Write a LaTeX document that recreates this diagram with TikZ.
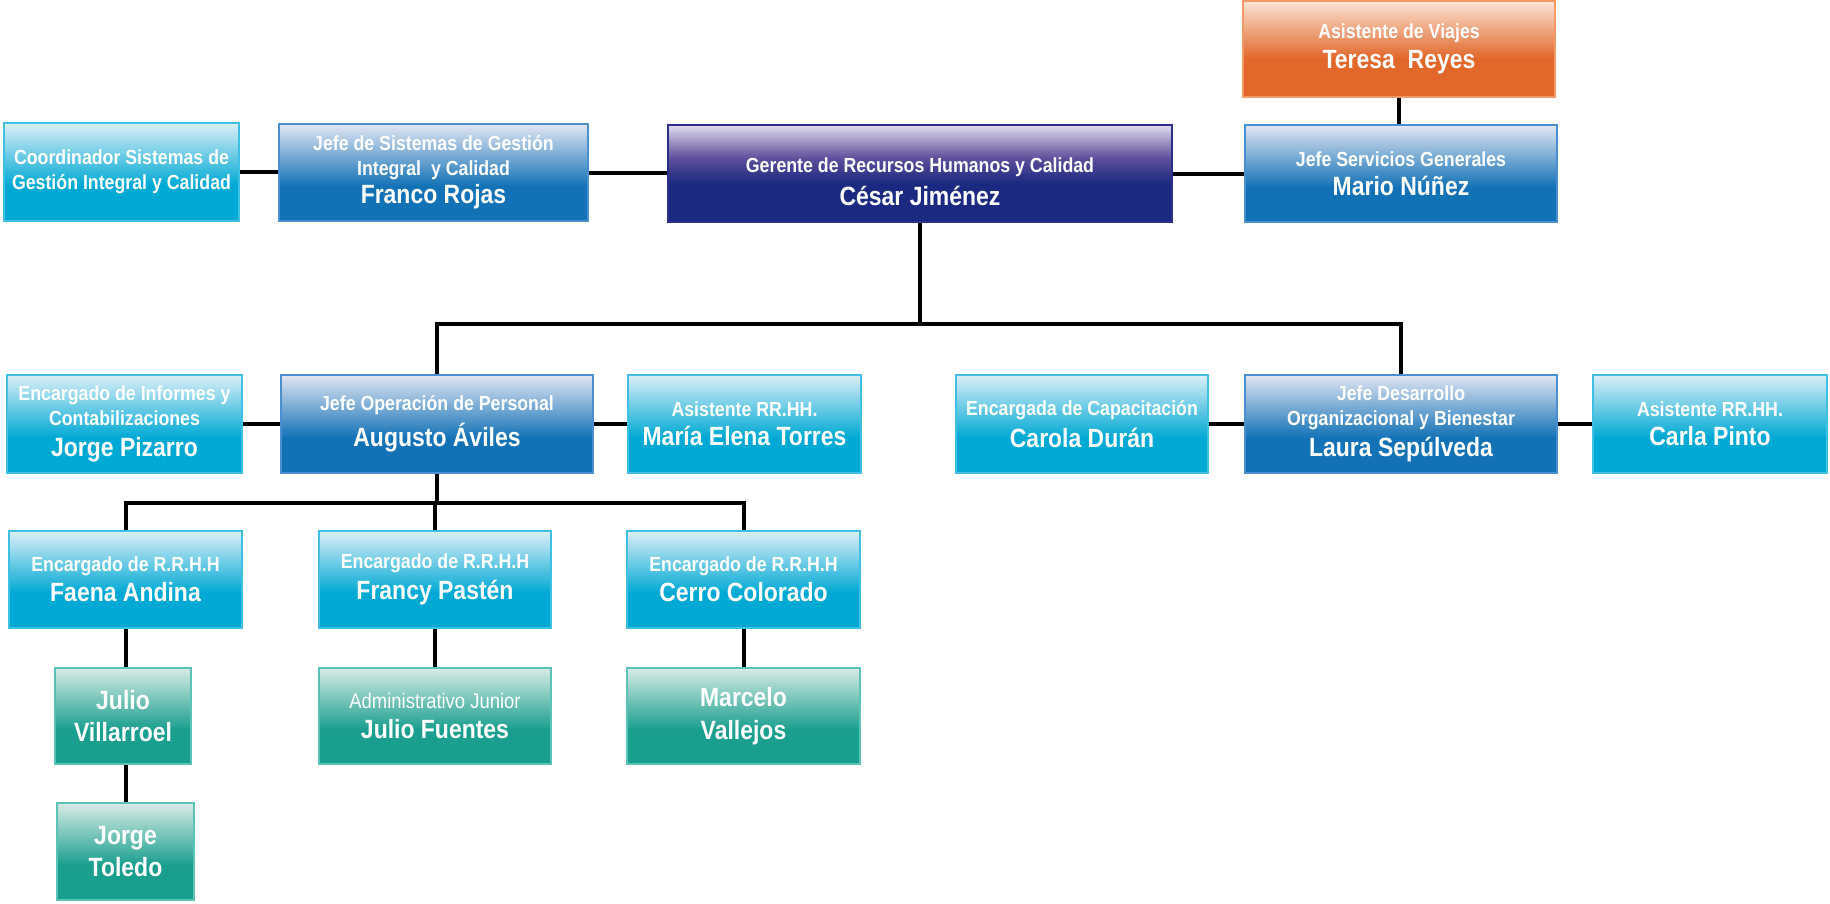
\documentclass[tikz,border=0pt]{standalone}
\usepackage{fontspec}
\setmainfont[FakeStretch=0.87]{Liberation Sans}
\usetikzlibrary{backgrounds}
\definecolor{cyanL}{HTML}{DCEFF7}
\definecolor{cyanD}{HTML}{00A9D4}
\definecolor{cyanB}{HTML}{3DC0E4}
\definecolor{blueL}{HTML}{E2E6F3}
\definecolor{blueD}{HTML}{1372B6}
\definecolor{blueB}{HTML}{4A90D0}
\definecolor{navyL}{HTML}{E0DCEF}
\definecolor{navyM}{HTML}{5E4F9A}
\definecolor{navyD}{HTML}{1B2A80}
\definecolor{navyB}{HTML}{2B2F8A}
\definecolor{orgL}{HTML}{FBE4D5}
\definecolor{orgD}{HTML}{E2672A}
\definecolor{orgB}{HTML}{F19A66}
\definecolor{tealL}{HTML}{D7EBE5}
\definecolor{tealD}{HTML}{1A9F8F}
\definecolor{tealB}{HTML}{5CC4B6}
\pgfdeclareverticalshading{shcyan}{100bp}{color(0bp)=(cyanD); color(25bp)=(cyanD); color(43bp)=(cyanD); color(75bp)=(cyanL); color(100bp)=(cyanL)}
\pgfdeclareverticalshading{shblue}{100bp}{color(0bp)=(blueD); color(25bp)=(blueD); color(43bp)=(blueD); color(75bp)=(blueL); color(100bp)=(blueL)}
\pgfdeclareverticalshading{shnavy}{100bp}{color(0bp)=(navyD); color(25bp)=(navyD); color(45bp)=(navyD); color(58bp)=(navyM); color(75bp)=(navyL); color(100bp)=(navyL)}
\pgfdeclareverticalshading{shorg}{100bp}{color(0bp)=(orgD); color(25bp)=(orgD); color(45bp)=(orgD); color(75bp)=(orgL); color(100bp)=(orgL)}
\pgfdeclareverticalshading{shteal}{100bp}{color(0bp)=(tealD); color(25bp)=(tealD); color(43bp)=(tealD); color(75bp)=(tealL); color(100bp)=(tealL)}
\newcommand\rtitle[1]{{\fontsize{10.2}{11.7}\selectfont #1}}
\newcommand\rname[1]{{\fontsize{13.2}{11.7}\selectfont #1}}
\tikzset{
  box/.style={rectangle, inner sep=0pt, outer sep=0pt, align=center, text=white,
    font=\bfseries\fontsize{10.2}{11.7}\selectfont, line width=0.6pt},
  sz/.style 2 args={minimum width=#1*0.5pt, minimum height=#2*0.5pt},
  bcyan/.style={box, shading=shcyan, draw=cyanB},
  bblue/.style={box, shading=shblue, draw=blueB},
  bnavy/.style={box, shading=shnavy, draw=navyB},
  borg/.style={box, shading=shorg, draw=orgB},
  bteal/.style={box, shading=shteal, draw=tealB},
  link/.style={line width=2pt, black}
}
\begin{document}
\begin{tikzpicture}[x=0.5pt, y=-0.5pt]
\useasboundingbox (0,0) rectangle (1830,904);
% row 0-1
\node[borg, sz={312}{96}] (teresa) at (1399,49) {\rtitle{Asistente de Viajes}\\[3pt]\rname{Teresa\ \ Reyes}};
\node[bblue, sz={312}{97}] (mario) at (1401,173.5) {\rtitle{Jefe Servicios Generales}\\[3pt]\rname{Mario Núñez}};
\node[bnavy, sz={504}{97}] (cesar) at (920,173.5) {\rule{0pt}{15.5pt}\rtitle{Gerente de Recursos Humanos y Calidad}\\[4pt]\rname{César Jiménez}};
\node[bblue, sz={309}{97}] (franco) at (433.5,172.5) {\rtitle{Jefe de Sistemas de Gestión}\\[0.8pt]\rtitle{Integral\ \ y Calidad}\\[1.4pt]\rname{Franco Rojas}};
\node[bcyan, sz={235}{98}] (coord) at (121.5,172) {\rtitle{Coordinador Sistemas de}\\[0.8pt]\rtitle{Gestión Integral y Calidad}};
% row 2
\node[bcyan, sz={235}{98}] (pizarro) at (124.5,424) {\rtitle{Encargado de Informes y}\\[0.8pt]\rtitle{Contabilizaciones}\\[3.4pt]\rname{Jorge Pizarro}};
\node[bblue, sz={312}{98}] (augusto) at (437,424) {\rtitle{Jefe Operación de Personal}\\[3pt]\rname{Augusto Áviles}};
\node[bcyan, sz={233}{98}] (maria) at (744.5,424) {\rtitle{Asistente RR.HH.}\\[3pt]\rname{María Elena Torres}};
\node[bcyan, sz={252}{98}] (carola) at (1082,424) {\rtitle{Encargada de Capacitación}\\[3pt]\rname{Carola Durán}};
\node[bblue, sz={312}{98}] (laura) at (1401,424) {\rtitle{Jefe Desarrollo}\\[0.8pt]\rtitle{Organizacional y Bienestar}\\[3pt]\rname{Laura Sepúlveda}};
\node[bcyan, sz={234}{98}] (carla) at (1710,424) {\rtitle{Asistente RR.HH.}\\[3pt]\rname{Carla Pinto}};
% row 3
\node[bcyan, sz={233}{97}] (faena) at (125.5,579.5) {\rtitle{Encargado de R.R.H.H}\\[2.5pt]\rname{Faena Andina}};
\node[bcyan, sz={232}{97}] (francy) at (435,579.5) {\rtitle{Encargado de R.R.H.H}\\[2.5pt]\rname{Francy Pastén}};
\node[bcyan, sz={233}{97}] (cerro) at (743.5,579.5) {\rtitle{Encargado de R.R.H.H}\\[2.5pt]\rname{Cerro Colorado}};
% row 4-5
\node[bteal, sz={136}{96}] (villarroel) at (123,716) {\rname{Julio}\\[4.6pt]\rname{Villarroel}};
\node[bteal, sz={232}{96}] (fuentes) at (435,716) {{\mdseries\fontsize{10.6}{11.7}\selectfont Administrativo Junior}\\[3pt]\rname{Julio Fuentes}};
\node[bteal, sz={233}{96}] (marcelo) at (743.5,716) {\rname{Marcelo}\\[4.6pt]\rname{Vallejos}};
\node[bteal, sz={137}{97}] (toledo) at (125.5,851.5) {\rname{Jorge}\\[2.8pt]\rname{Toledo}};
% connectors
\begin{scope}[on background layer]
\coordinate (busA) at (920,324);
\coordinate (busB) at (437,503);
\draw[link] (coord.east) -- (franco.west |- coord.east);
\draw[link] (franco.east) -- (cesar.west |- franco.east);
\draw[link] (cesar.east) -- (mario.west |- cesar.east);
\draw[link] (teresa.south) -- (teresa.south |- mario.north);
\draw[link] (cesar.south) -- (busA) -| (augusto.north);
\draw[link] (busA) -| (laura.north);
\draw[link] (pizarro.east) -- (augusto.west |- pizarro.east);
\draw[link] (augusto.east) -- (maria.west |- augusto.east);
\draw[link] (carola.east) -- (laura.west |- carola.east);
\draw[link] (laura.east) -- (carla.west |- laura.east);
\draw[link] (augusto.south) -- (busB) -| (faena.north);
\draw[link] (busB) -| (francy.north);
\draw[link] (busB) -| (cerro.north);
\draw[link] (faena.south) -- (faena.south |- villarroel.north);
\draw[link] (faena.south |- villarroel.south) -- (faena.south |- toledo.north);
\draw[link] (francy.south) -- (fuentes.north);
\draw[link] (cerro.south) -- (marcelo.north);
\end{scope}
\end{tikzpicture}
\end{document}
